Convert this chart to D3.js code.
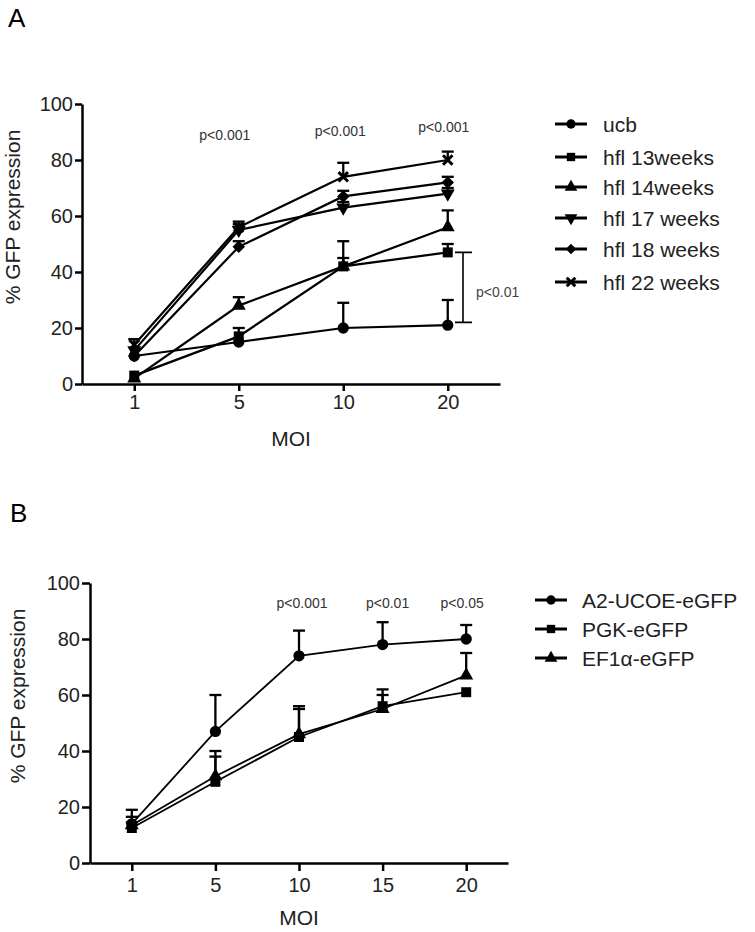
<!DOCTYPE html>
<html><head><meta charset="utf-8">
<script src="https://cdn.jsdelivr.net/npm/d3@7"></script>
<style>body{margin:0;background:#fff} text{font-family:"Liberation Sans",Arial,sans-serif}</style></head>
<body><svg id="c" width="755" height="932"></svg>
<script>
// ---------- Data ----------
const yTicks = [0, 20, 40, 60, 80, 100];

// Panel A
const catsA = ["1", "5", "10", "20"];
const namesA = ["ucb", "hfl 13weeks", "hfl 14weeks", "hfl 17 weeks", "hfl 18 weeks", "hfl 22 weeks"];
const shapesA = ["circle", "square", "triangle", "triangleDown", "diamond", "times"];
const ucb = [10, 15, 20, 21],    ucbErr = [0, 0, 9, 9];
const hfl13 = [3, 17, 42, 47],   hfl13Err = [0, 3, 3, 3];
const hfl14 = [2, 28, 42, 56],   hfl14Err = [0, 3, 9, 6];
const hfl17 = [12, 55, 63, 68],  hfl17Err = [0, 2, 2, 2];
const hfl18 = [10, 49, 67, 72],  hfl18Err = [0, 2, 2, 2];
const hfl22 = [14, 56, 74, 80],  hfl22Err = [2, 2, 5, 3];
const pCatsA = ["5", "10", "20"];
const pTextA = ["p<0.001", "p<0.001", "p<0.001"];
const bracketA = [47, 22];
const bracketTextA = "p<0.01";

// Panel B
const catsB = ["1", "5", "10", "15", "20"];
const namesB = ["A2-UCOE-eGFP", "PGK-eGFP", "EF1\u03b1-eGFP"];
const shapesB = ["circle", "square", "triangle"];
const a2 = [14, 47, 74, 78, 80],     a2Err = [5, 13, 9, 8, 5];
const pgk = [12.5, 29, 45, 56, 61],  pgkErr = [2, 9, 11, 6, 0];
const ef1 = [13.5, 31, 46, 55, 67],  ef1Err = [3, 9, 9, 5, 8];
const pCatsB = ["10", "15", "20"];
const pTextB = ["p<0.001", "p<0.01", "p<0.05"];

// ---------- Drawing ----------
const svg = d3.select("#c");
const TXT = "#222";

function symPath(shape, size) {
  switch (shape) {
    case "circle": return d3.symbol(d3.symbolCircle, size)();
    case "square": return d3.symbol(d3.symbolSquare, size)();
    case "triangle": return d3.symbol(d3.symbolTriangle, size)();
    case "triangleDown": return d3.symbol(d3.symbolTriangle, size)();
    case "diamond": return d3.symbol(d3.symbolDiamond2, size)();
    case "times": return d3.symbol(d3.symbolTimes, size)();
  }
}
function drawMarker(g, shape, x, y, size) {
  const p = g.append("path").attr("d", symPath(shape, size))
    .attr("transform", `translate(${x},${y})` + (shape === "triangleDown" ? " rotate(180)" : ""));
  if (shape === "times") p.attr("fill", "none").attr("stroke", "#000").attr("stroke-width", 3);
  else p.attr("fill", "#000");
}

function panel(cfg) {
  const g = svg.append("g");
  const x = d3.scalePoint().domain(cfg.cats).range(cfg.xr).padding(0.5);
  const y = d3.scaleLinear().domain([0, 100]).range(cfg.yr);

  const ya = g.append("g").attr("transform", `translate(${cfg.xr[0]},0)`)
    .call(d3.axisLeft(y).tickValues(yTicks).tickSize(cfg.tick).tickSizeOuter(0).tickPadding(2));
  const xa = g.append("g").attr("transform", `translate(0,${cfg.yr[0]})`)
    .call(d3.axisBottom(x).tickSize(cfg.tick).tickSizeOuter(0).tickPadding(cfg.xpad));
  [ya, xa].forEach(a => {
    a.selectAll("path,line").attr("stroke", "#000").attr("stroke-width", 2.5);
    a.selectAll("text").attr("font-size", 20).attr("fill", TXT).attr("font-family", '"Liberation Sans",Arial,sans-serif');
  });

  // axis titles
  g.append("text").attr("x", (cfg.xr[0] + cfg.xr[1]) / 2).attr("y", cfg.moiY)
    .attr("text-anchor", "middle").attr("font-size", 21).attr("fill", TXT).text("MOI");
  g.append("text").attr("transform", `translate(${cfg.ytX},${cfg.ytY}) rotate(-90)`)
    .attr("text-anchor", "middle").attr("font-size", 21).attr("fill", TXT).text("% GFP expression");

  const line = d3.line().x((d, i) => x(cfg.cats[i])).y(d => y(d));
  // lines
  cfg.series.forEach(s => {
    g.append("path").attr("d", line(s.v)).attr("fill", "none").attr("stroke", "#000").attr("stroke-width", cfg.lw);
  });
  // error bars (upper only)
  cfg.series.forEach(s => {
    s.v.forEach((v, i) => {
      if (!s.e[i]) return;
      const cx = x(cfg.cats[i]);
      g.append("line").attr("x1", cx).attr("x2", cx).attr("y1", y(v)).attr("y2", y(v + s.e[i]))
        .attr("stroke", "#000").attr("stroke-width", 2.3);
      g.append("line").attr("x1", cx - 6).attr("x2", cx + 6).attr("y1", y(v + s.e[i])).attr("y2", y(v + s.e[i]))
        .attr("stroke", "#000").attr("stroke-width", 2.3);
    });
  });
  // markers
  cfg.series.forEach(s => {
    s.v.forEach((v, i) => drawMarker(g, s.shape, x(cfg.cats[i]), y(v), s.shape === "times" ? 60 : (s.shape.startsWith("tri") ? 85 : 100)));
  });
  // p labels
  cfg.pCats.forEach((c, i) => {
    g.append("text").attr("x", x(c) + cfg.pOff[i]).attr("y", cfg.pY[i]).attr("text-anchor", "middle")
      .attr("font-size", 14).attr("fill", "#333").text(cfg.pText[i]);
  });
  // legend
  cfg.series.forEach((s, i) => {
    const ly = cfg.legY[i];
    g.append("line").attr("x1", cfg.legX).attr("x2", cfg.legX + 32).attr("y1", ly).attr("y2", ly)
      .attr("stroke", "#000").attr("stroke-width", 3);
    drawMarker(g, s.shape, cfg.legX + 16, ly, s.shape === "times" ? 50 : 70);
    g.append("text").attr("x", cfg.legX + cfg.legTx).attr("y", ly + 7.5).attr("font-size", 21)
      .attr("fill", TXT).text(s.name);
  });
  return {g, x, y};
}

// Panel A
const seriesA = [ucb, hfl13, hfl14, hfl17, hfl18, hfl22].map((v, i) => ({
  v, e: [ucbErr, hfl13Err, hfl14Err, hfl17Err, hfl18Err, hfl22Err][i], name: namesA[i], shape: shapesA[i]
}));
const A = panel({
  cats: catsA, xr: [82, 500], yr: [384, 104], tick: 7, xpad: 4, lw: 2.2,
  moiY: 446, ytX: 20, ytY: 217, series: seriesA,
  pCats: pCatsA, pText: pTextA, pOff: [-14, -3, -4], pY: [140, 136, 132],
  legX: 555, legTx: 48, legY: [124, 157, 187, 218, 249, 282]
});
// bracket A
{
  const bx = 463, y1 = A.y(bracketA[0]), y2 = A.y(bracketA[1]);
  A.g.append("path").attr("d", `M${bx - 8},${y1}H${bx + 9}M${bx},${y1}V${y2}M${bx - 8},${y2}H${bx + 9}`)
    .attr("stroke", "#000").attr("stroke-width", 1.6).attr("fill", "none");
  A.g.append("text").attr("x", bx + 13).attr("y", (y1 + y2) / 2 + 10).attr("font-size", 14)
    .attr("fill", "#444").text(bracketTextA);
}
svg.append("text").attr("x", 8).attr("y", 27).attr("font-size", 26).attr("fill", "#000").text("A");

// Panel B
const seriesB = [a2, pgk, ef1].map((v, i) => ({
  v, e: [a2Err, pgkErr, ef1Err][i], name: namesB[i], shape: shapesB[i]
}));
panel({
  cats: catsB, xr: [90, 508], yr: [863, 583], tick: 8, xpad: 7, lw: 1.8,
  moiY: 925, ytX: 25, ytY: 696, series: seriesB,
  pCats: pCatsB, pText: pTextB, pOff: [3, 5, -4], pY: [608, 608, 608],
  legX: 535, legTx: 47, legY: [600, 629, 658]
});
svg.append("text").attr("x", 10).attr("y", 522).attr("font-size", 26).attr("fill", "#000").text("B");
</script></body></html>
